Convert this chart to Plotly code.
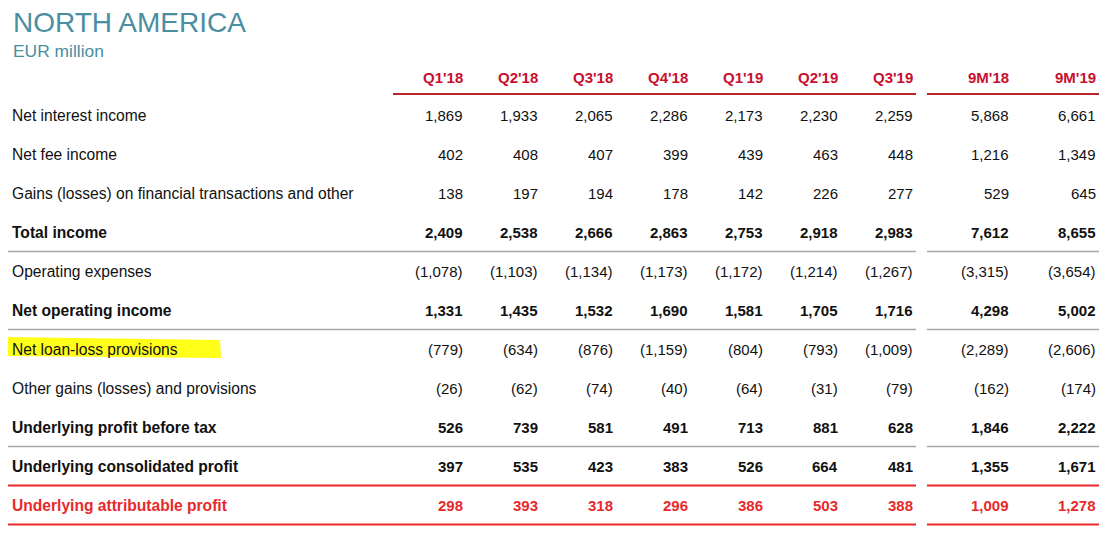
import plotly.graph_objects as go

# column headers and row labels
columns = ["Q1'18", "Q2'18", "Q3'18", "Q4'18", "Q1'19", "Q2'19", "Q3'19", "9M'18", "9M'19"]
row_labels = [
    "Net interest income",
    "Net fee income",
    "Gains (losses) on financial transactions and other",
    "Total income",
    "Operating expenses",
    "Net operating income",
    "Net loan-loss provisions",
    "Other gains (losses) and provisions",
    "Underlying profit before tax",
    "Underlying consolidated profit",
    "Underlying attributable profit",
]

# EUR million, one list per row (negatives shown in brackets)
net_interest_income = [1869, 1933, 2065, 2286, 2173, 2230, 2259, 5868, 6661]
net_fee_income = [402, 408, 407, 399, 439, 463, 448, 1216, 1349]
gains_other = [138, 197, 194, 178, 142, 226, 277, 529, 645]
total_income = [2409, 2538, 2666, 2863, 2753, 2918, 2983, 7612, 8655]
operating_expenses = [-1078, -1103, -1134, -1173, -1172, -1214, -1267, -3315, -3654]
net_operating_income = [1331, 1435, 1532, 1690, 1581, 1705, 1716, 4298, 5002]
net_loan_loss = [-779, -634, -876, -1159, -804, -793, -1009, -2289, -2606]
other_provisions = [-26, -62, -74, -40, -64, -31, -79, -162, -174]
profit_before_tax = [526, 739, 581, 491, 713, 881, 628, 1846, 2222]
consolidated_profit = [397, 535, 423, 383, 526, 664, 481, 1355, 1671]
attributable_profit = [298, 393, 318, 296, 386, 503, 388, 1009, 1278]

rows = [net_interest_income, net_fee_income, gains_other, total_income,
        operating_expenses, net_operating_income, net_loan_loss,
        other_provisions, profit_before_tax, consolidated_profit,
        attributable_profit]

bold_rows = {3, 5, 8, 9, 10}
grey_line_after = [3, 5, 8]

W, H = 1116, 536
PAGE_MARGIN = 8  # default body margin of the html page
FONT = "Liberation Sans, Arial, sans-serif"
TEXT = "#111111"
TEAL = "#4a8ea2"
HEAD_RED = "#c8102e"
RED = "#e8292b"
GREY = "#a8a8a8"

# layout grid (pixels)
col_right = [465, 540, 615, 690, 765, 840, 915, 1011, 1098]
header_y = 77
row0_y = 115
row_h = 39
seg_a = (8, 916)
seg_b = (927, 1099)


def fmt(v):
    s = f"{abs(v):,}"
    return f"({s})" if v < 0 else s


def row_y(i):
    return row0_y + i * row_h


fig = go.Figure()
annotations = []
shapes = []

annotations.append(dict(x=11, y=22, text="NORTH AMERICA", xanchor="left", yanchor="middle",
                        showarrow=False, font=dict(family=FONT, size=28, color=TEAL)))
annotations.append(dict(x=11, y=51, text="EUR million", xanchor="left", yanchor="middle",
                        showarrow=False, font=dict(family=FONT, size=17.4, color=TEAL)))

# highlight behind "Net loan-loss provisions"
hy = row_y(6)
shapes.append(dict(type="path", xref="x", yref="y",
                   path=f"M0,{hy-12} L220,{hy-9} L221,{hy+9} L0,{hy+7} Z",
                   fillcolor="#ffff1a", line=dict(width=0), layer="below"))

for j, c in enumerate(columns):
    annotations.append(dict(x=col_right[j], y=header_y, text=f"<b>{c}</b>", xanchor="right",
                            yanchor="middle", showarrow=False,
                            font=dict(family=FONT, size=15, color=HEAD_RED)))

for i, (label, vals) in enumerate(zip(row_labels, rows)):
    y = row_y(i)
    color = RED if i == 10 else TEXT
    b = i in bold_rows
    lab = f"<b>{label}</b>" if b else label
    annotations.append(dict(x=10, y=y, text=lab, xanchor="left", yanchor="middle",
                            showarrow=False, font=dict(family=FONT, size=15.6, color=color)))
    for j, v in enumerate(vals):
        t = fmt(v)
        annotations.append(dict(x=col_right[j], y=y, text=f"<b>{t}</b>" if b else t,
                                xanchor="right", yanchor="middle", showarrow=False,
                                font=dict(family=FONT, size=15, color=color)))

# header rule
for x0, x1 in [(393, seg_a[1]), seg_b]:
    shapes.append(dict(type="line", x0=x0, x1=x1, y0=header_y + 17, y1=header_y + 17,
                       line=dict(color="#b8262c", width=2)))

# grey separators
for i in grey_line_after:
    y = row_y(i) + row_h / 2
    for x0, x1 in [seg_a, seg_b]:
        shapes.append(dict(type="line", x0=x0, x1=x1, y0=y, y1=y,
                           line=dict(color=GREY, width=1.5)))

# red rules around attributable profit
for y in [row_y(9) + row_h / 2, row_y(10) + row_h / 2]:
    for x0, x1 in [seg_a, seg_b]:
        shapes.append(dict(type="line", x0=x0, x1=x1, y0=y, y1=y,
                           line=dict(color=RED, width=2)))

fig.update_layout(
    width=W - PAGE_MARGIN, height=H - PAGE_MARGIN,
    margin=dict(l=0, r=0, t=0, b=0),
    paper_bgcolor="white", plot_bgcolor="white",
    xaxis=dict(range=[PAGE_MARGIN, W], visible=False, fixedrange=True),
    yaxis=dict(range=[H, PAGE_MARGIN], visible=False, fixedrange=True),
    annotations=annotations, shapes=shapes,
    showlegend=False,
)

fig.write_html("out.html")
